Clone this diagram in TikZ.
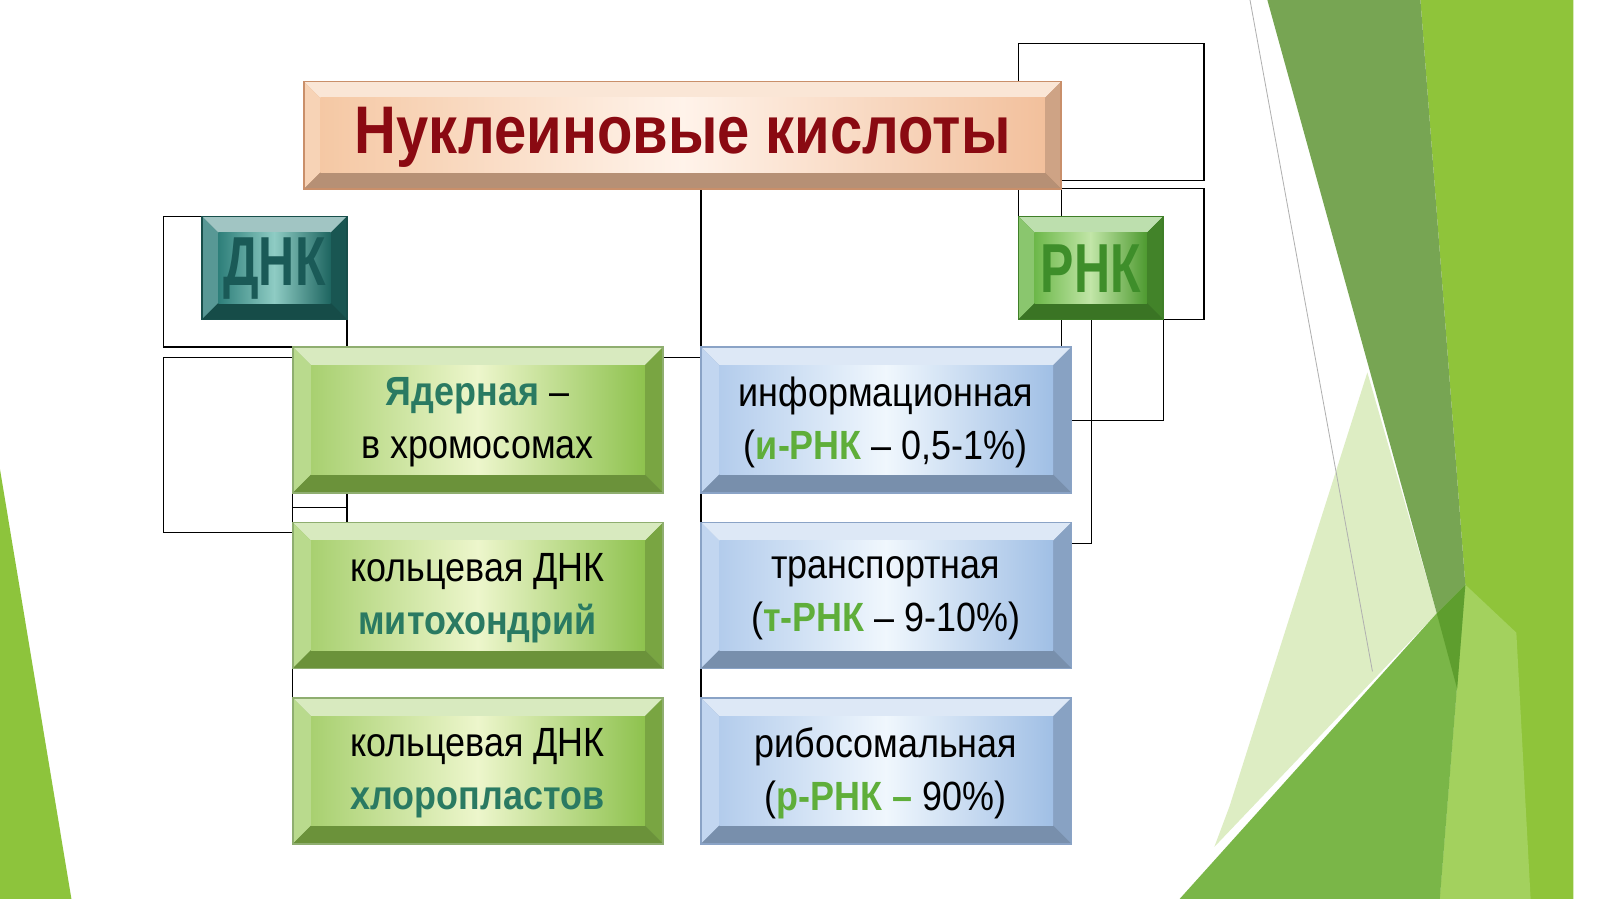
\documentclass[tikz,border=0pt]{standalone}
\usepackage{fontspec}
\setmainfont{Liberation Sans}
\definecolor{dred}{HTML}{8A0A12}
\definecolor{teal1}{HTML}{2A7A62}
\definecolor{grn1}{HTML}{5FAE3A}
\definecolor{bgA}{HTML}{8DC43C}
\definecolor{bgB}{HTML}{DDEDC3}
\definecolor{bgC}{HTML}{7AB648}
\definecolor{bgD}{HTML}{8FC43A}
\definecolor{bgE}{HTML}{A3D15E}
\definecolor{bgF}{HTML}{77A553}
\definecolor{bgG}{HTML}{5E9E2E}
\definecolor{gl}{HTML}{B0B0B0}
\definecolor{tA}{HTML}{F5C8A4}\definecolor{tM}{HTML}{FFF3EA}\definecolor{tB}{HTML}{F2C09C}\definecolor{tE}{HTML}{C98F6A}
\definecolor{dA}{HTML}{2E7F7A}\definecolor{dM}{HTML}{8FCCC4}\definecolor{dB}{HTML}{1E6560}\definecolor{dE}{HTML}{184F4B}
\definecolor{rA}{HTML}{6DB84A}\definecolor{rM}{HTML}{C2E6A8}\definecolor{rB}{HTML}{4E9A30}\definecolor{rE}{HTML}{3F7F28}
\definecolor{gA}{HTML}{A8D070}\definecolor{gM}{HTML}{EDF6CC}\definecolor{gB}{HTML}{8EC24E}\definecolor{gE}{HTML}{8FAE70}
\definecolor{uA}{HTML}{B3CCEC}\definecolor{uM}{HTML}{F0F7FD}\definecolor{uB}{HTML}{A0BFE5}\definecolor{uE}{HTML}{8AA3C6}
\definecolor{dnkT}{HTML}{1A5A57}
\definecolor{rnkT}{HTML}{3E8E2A}
\begin{document}
\begin{tikzpicture}[x=0.5pt,y=-0.5pt,
  txt/.style={align=center,font=\fontsize{20}{26}\selectfont,text=black},
  ln/.style={draw=black,line width=0.6pt}]
\useasboundingbox (0,0) rectangle (1568,881);
\fill[white] (0,0) rectangle (1568,881);
% background
\fill[bgA] (0,460) -- (70,881) -- (0,881) -- cycle;
\fill[bgD] (1392,0) -- (1542,0) -- (1542,881) -- (1411,881) -- (1436,573) -- cycle;
\fill[bgE] (1436,573) -- (1486,620) -- (1500,881) -- (1411,881) -- cycle;
\fill[bgB] (1340,365) -- (1408,601) -- (1190,830) -- (1205,790) -- cycle;
\fill[bgC] (1156,881) -- (1408,601) -- (1436,573) -- (1411,881) -- cycle;
\fill[bgF] (1242,0) -- (1392,0) -- (1436,573) -- (1408,601) -- cycle;
\fill[bgG] (1408,601) -- (1436,573) -- (1428,675) -- cycle;
\draw[gl,line width=0.4pt] (1225,0) -- (1345,658);
\newcommand\bev[9]{% x1 y1 x2 y2 d cA cM cB edge
 \fill[#9] (#1,#2) rectangle (#3,#4);
 \fill[#6!45!white] (#1,#2)--(#3,#2)--({#3-#5},{#2+#5})--({#1+#5},{#2+#5})--cycle;
 \fill[#6!80!white] (#1,#2)--({#1+#5},{#2+#5})--({#1+#5},{#4-#5})--(#1,#4)--cycle;
 \fill[#8!85!black] (#3,#2)--({#3-#5},{#2+#5})--({#3-#5},{#4-#5})--(#3,#4)--cycle;
 \fill[#8!75!black] (#1,#4)--({#1+#5},{#4-#5})--({#3-#5},{#4-#5})--(#3,#4)--cycle;
 \shade[left color=#6,right color=#7] ({#1+#5},{#2+#5}) rectangle ({(#1+#3)/2},{#4-#5});
 \shade[left color=#7,right color=#8] ({(#1+#3)/2-0.5},{#2+#5}) rectangle ({#3-#5},{#4-#5});
 \draw[#9,line width=0.8pt] (#1,#2) rectangle (#3,#4);}
% connector lines
\draw[ln] (998,80)--(998,43)--(1180,43)--(1180,177)--(1040,177);
\draw[ln] (1040,185)--(1180,185)--(1180,313)--(1140,313);
\draw[ln] (998,185)--(998,212); \draw[ln] (1040,185)--(1040,340);
\draw[ln] (1070,313)--(1070,533)--(1050,533);
\draw[ln] (1140,313)--(1140,412)--(1050,412);
\draw[ln] (687,185)--(687,684); \draw[ln] (650,350)--(687,350);
\draw[ln] (198,212)--(160,212)--(160,340)--(340,340)--(340,313);
\draw[ln] (287,350)--(160,350)--(160,522)--(287,522);
\draw[ln] (287,483)--(287,512); \draw[ln] (287,497)--(340,497); \draw[ln] (340,483)--(340,512);
\draw[ln] (287,655)--(287,684);
% boxes
\bev{298}{80}{1040}{185}{16}{tA}{tM}{tB}{tE}
\bev{198}{212}{340}{313}{16}{dA}{dM}{dB}{dE}
\bev{998}{212}{1140}{313}{16}{rA}{rM}{rB}{rE}
\foreach \y in {340,512,684}{
 \bev{287}{\y}{650}{\y+143}{18}{gA}{gM}{gB}{gE}
 \bev{687}{\y}{1050}{\y+143}{18}{uA}{uM}{uB}{uE}}
% texts
\node[font=\bfseries\fontsize{33}{38}\selectfont,text=dred] (t) at (669,135) {\scalebox{0.86}[1]{Нуклеиновые кислоты}};
\node[font=\bfseries\fontsize{34}{38}\selectfont,text=dnkT] (d) at (269,263) {\scalebox{0.72}[1]{ДНК}};
\node[font=\bfseries\fontsize{34}{38}\selectfont,text=rnkT] (r) at (1069,263) {\scalebox{0.72}[1]{РНК}};
\node[txt] (a1) at (468,414) {\scalebox{0.88}[1]{\textcolor{teal1}{\bfseries Ядерная} –}\\\scalebox{0.88}[1]{в хромосомах}};
\node[txt] (a2) at (468,586) {\scalebox{0.88}[1]{кольцевая ДНК}\\\scalebox{0.88}[1]{\textcolor{teal1}{\bfseries митохондрий}}};
\node[txt] (a3) at (468,758) {\scalebox{0.88}[1]{кольцевая ДНК}\\\scalebox{0.88}[1]{\textcolor{teal1}{\bfseries хлоропластов}}};
\node[txt] (b1) at (868,414) {\scalebox{0.88}[1]{информационная}\\\scalebox{0.88}[1]{(\textcolor{grn1}{\bfseries и-РНК} – 0,5-1\%)}};
\node[txt] (b2) at (868,586) {\scalebox{0.88}[1]{транспортная}\\\scalebox{0.88}[1]{(\textcolor{grn1}{\bfseries т-РНК} – 9-10\%)}};
\node[txt] (b3) at (868,758) {\scalebox{0.88}[1]{рибосомальная}\\\scalebox{0.88}[1]{(\textcolor{grn1}{\bfseries р-РНК –} 90\%)}};
\end{tikzpicture}
\end{document}
